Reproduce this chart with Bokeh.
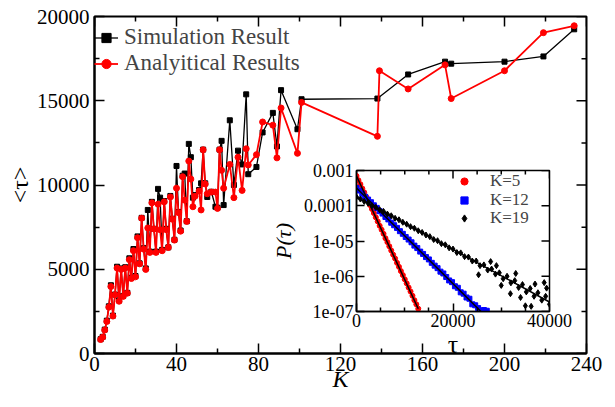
import numpy as np
from bokeh.plotting import figure
from bokeh.models import (Range1d, Legend, LegendItem, FixedTicker, GridBox)
from bokeh.embed import file_html
from bokeh.resources import INLINE

# ---------------- main data ----------------
K_sim = [3, 4, 5, 6, 7, 8, 9, 10, 11, 12, 13, 14, 15, 16, 17, 18, 19, 20, 21, 22, 23, 24, 25,
         26, 27, 28, 29, 30, 31, 32, 33, 34, 35, 36, 37, 38, 39, 40, 41, 42, 43, 44, 45, 46,
         47, 48, 49, 51, 52, 53, 54, 55, 57, 59, 60, 61, 62, 63, 66, 68, 70, 72, 74, 75, 79,
         82, 87, 89, 91, 99, 101, 138, 153, 171, 174, 200, 219, 234]
tau_sim = [850, 990, 1420, 1950, 2800, 4050, 2250, 3500, 5150, 3150, 5050, 3420, 5120, 3600,
           5650, 4500, 6200, 4600, 6950, 5350, 8050, 6250, 5050, 8520, 6050, 9000, 7400, 6050,
           9770, 9250, 6150, 9050, 7400, 6300, 9350, 8000, 6750, 11130, 8400, 7300, 10550,
           10680, 7850, 12440, 11650, 9250, 9400, 9700, 10100, 12100, 10100, 9290, 9600, 8710,
           8650, 12100, 12620, 8810, 13840, 10000, 12040, 11220, 15380, 10640, 11070, 13120,
           14280, 12290, 15630, 13310, 15090, 15130, 16560, 17320, 17200, 17320, 17630, 19240]

K_ana = [3, 4, 5, 6, 7, 8, 9, 10, 11, 12, 13, 14, 15, 16, 17, 18, 19, 20, 21, 22, 23, 24, 25,
         26, 27, 28, 29, 30, 31, 32, 33, 34, 35, 36, 37, 38, 39, 40, 41, 42, 43, 44, 45, 46,
         47, 48, 49, 51, 52, 53, 54, 55, 57, 59, 60, 61, 62, 63, 66, 68, 70, 72, 74, 75, 79,
         82, 87, 89, 91, 99, 101, 138, 139, 153, 171, 174, 200, 219, 234]
tau_ana = [830, 970, 1390, 1900, 2750, 3970, 2220, 3480, 5070, 3100, 4990, 3390, 5070, 3580,
           5570, 4450, 6100, 4550, 6870, 5320, 8030, 6190, 4990, 7450, 6000, 8940, 7390, 6000,
           8860, 7350, 6100, 9000, 7350, 6290, 9290, 7970, 6730, 9810, 8360, 7260, 10490, 9100,
           7840, 11420, 10350, 8710, 9330, 9640, 8520, 12090, 10060, 9480, 9580, 9580, 8610,
           12090, 10870, 9810, 11220, 9250, 11650, 9680, 12150, 11190, 11800, 13740, 13550,
           11610, 14570, 11880, 14900, 12890, 16780, 15700, 17130, 15130, 16780, 19040, 19450]

X_TICKS = [0, 40, 80, 120, 160, 200, 240]
X_MINOR = [20, 60, 100, 140, 180, 220]
Y_TICKS = [0, 5000, 10000, 15000, 20000]
Y_MINOR = [2500, 7500, 12500, 17500]
X_RANGE = (0, 240)
Y_RANGE = (0, 20000)

# ---------------- inset data ----------------
t5 = [0, 400, 800, 1200, 1600, 2000, 2400, 2800, 3200, 3600, 4000, 4400, 4800, 5200, 5600,
      6000, 6400, 6800, 7200, 7600, 8000, 8400, 8800, 9200, 9600, 10000, 10400, 10800, 11200,
      11600, 12000, 12400, 12800]
p5 = [7.0e-4, 5.3e-4, 4.1e-4, 3.1e-4, 2.4e-4, 1.8e-4, 1.4e-4, 1.05e-4, 8.1e-5, 6.2e-5, 4.7e-5,
      3.6e-5, 2.7e-5, 2.1e-5, 1.6e-5, 1.2e-5, 9.3e-6, 7.1e-6, 5.4e-6, 4.1e-6, 3.2e-6, 2.4e-6,
      1.85e-6, 1.4e-6, 1.08e-6, 8.2e-7, 6.3e-7, 4.8e-7, 3.7e-7, 2.8e-7, 2.1e-7, 1.6e-7, 1.2e-7]

t12 = [0, 600, 1200, 1800, 2400, 3000, 3600, 4200, 4800, 5400, 6000, 6600, 7200, 7800, 8400,
       9000, 9600, 10200, 10800, 11400, 12000, 12600, 13200, 13800, 14400, 15000, 15600, 16200,
       16800, 17400, 18000, 18600, 19200, 19800, 20400, 21000, 21600, 22200, 22800, 23400,
       24000, 24600, 25200, 25800, 26400, 27000]
p12 = [3.2e-4, 2.7e-4, 2.2e-4, 1.8e-4, 1.5e-4, 1.26e-4, 1.03e-4, 8.7e-5, 7.0e-5, 6.0e-5,
       4.8e-5, 4.1e-5, 3.3e-5, 2.8e-5, 2.35e-5, 1.9e-5, 1.6e-5, 1.3e-5, 1.1e-5, 9.2e-6, 7.4e-6,
       6.3e-6, 5.0e-6, 4.3e-6, 3.5e-6, 3.0e-6, 2.4e-6, 2.0e-6, 1.7e-6, 1.35e-6, 1.2e-6, 9.5e-7,
       7.6e-7, 6.8e-7, 5.2e-7, 4.7e-7, 3.5e-7, 3.2e-7, 2.5e-7, 2.3e-7, 1.6e-7, 1.5e-7, 1.25e-7,
       1.05e-7, 1.1e-7, 1.05e-7]

t19 = [0, 800, 1600, 2400, 3200, 4000, 4800, 5600, 6400, 7200, 8000, 8800, 9600, 10400, 11200,
       12000, 12800, 13600, 14400, 15200, 16000, 16800, 17600, 18400, 19200, 20000, 20800,
       21600, 22400, 23200, 24000, 24800, 25600, 26400, 27200, 28000, 28800, 29600, 30400,
       31200, 32000, 32800, 33600, 34400, 35200, 36000, 36800, 37600, 38400, 39200, 40000,
       25300, 27800, 29000, 30000, 31900, 33000, 34000, 35000, 36200, 37000, 38900, 39400]
p19 = [1.77e-4, 1.55e-4, 1.33e-4, 1.18e-4, 1.0e-4, 9.0e-5, 7.7e-5, 6.9e-5, 5.8e-5, 5.2e-5,
       4.4e-5, 4.0e-5, 3.4e-5, 3.0e-5, 2.55e-5, 2.3e-5, 1.95e-5, 1.75e-5, 1.48e-5, 1.33e-5,
       1.1e-5, 1.02e-5, 8.4e-6, 7.8e-6, 6.4e-6, 5.9e-6, 4.7e-6, 4.6e-6, 3.6e-6, 3.5e-6, 2.7e-6,
       2.7e-6, 2.0e-6, 2.1e-6, 1.5e-6, 1.6e-6, 1.15e-6, 1.25e-6, 8.5e-7, 1.0e-6, 6.5e-7, 7.5e-7,
       4.8e-7, 5.8e-7, 3.6e-7, 4.5e-7, 2.7e-7, 3.4e-7, 2.1e-7, 2.7e-7, 1.6e-7,
       1.1e-6, 2.6e-6, 2.0e-6, 5.5e-7, 3.2e-7, 1.2e-6, 2.5e-7, 1.45e-7, 1.4e-7, 6.0e-7, 6.6e-7,
       4.6e-7]

fit5_t, fit5_p = [0, 12800], [7.0e-4, 1.2e-7]
fit12_t, fit12_p = [0, 25800], [3.2e-4, 1.0e-7]
fit19_t, fit19_p = [0, 40000], [1.77e-4, 1.86e-7]

IN_X_TICKS = [0, 20000, 40000]
IN_X_MINOR = [5000, 10000, 15000, 25000, 30000, 35000]
IN_Y_TICKS = [1e-3, 1e-4, 1e-5, 1e-6, 1e-7]
IN_Y_LABELS = ["0.001", "0.0001", "1e-05", "1e-06", "1e-07"]
IN_X_RANGE = (0, 40000)
IN_Y_RANGE = (1e-7, 1e-3)

SERIF = "Liberation Serif"


def style_axis(ax, ticks, minor, size, standoff, tick_in, minor_in):
    ax.ticker = FixedTicker(ticks=ticks, minor_ticks=minor)
    ax.major_tick_in = tick_in
    ax.major_tick_out = 0
    ax.minor_tick_in = minor_in
    ax.minor_tick_out = 0
    ax.major_tick_line_width = 1.5
    ax.minor_tick_line_width = 1.5
    ax.major_tick_line_color = "black"
    ax.minor_tick_line_color = "black"
    ax.axis_line_width = 2
    ax.axis_line_color = "black"
    ax.major_label_text_font = SERIF
    ax.major_label_text_color = "black"
    ax.major_label_text_font_size = size
    ax.major_label_standoff = standoff


def axis_title(ax, text, size, style, standoff):
    ax.axis_label = text
    ax.axis_label_text_font = SERIF
    ax.axis_label_text_font_size = size
    ax.axis_label_text_font_style = style
    ax.axis_label_text_color = "black"
    ax.axis_label_standoff = standoff


def mirror_ticks(fig, xt, xm, yt, ym, xr, yr, major, minor):
    kw = dict(length_units="screen", line_color="black", line_width=1.5)
    fig.ray(x=xt, y=[yr[1]] * len(xt), length=major, angle=-np.pi / 2, **kw)
    if xm:
        fig.ray(x=xm, y=[yr[1]] * len(xm), length=minor, angle=-np.pi / 2, **kw)
    fig.ray(x=[xr[1]] * len(yt), y=yt, length=major, angle=np.pi, **kw)
    if ym:
        fig.ray(x=[xr[1]] * len(ym), y=ym, length=minor, angle=np.pi, **kw)


# ---------------- main figure ----------------
p = figure(width=615, height=407, output_backend="svg", toolbar_location=None,
           x_range=Range1d(*X_RANGE), y_range=Range1d(*Y_RANGE),
           min_border_left=94, min_border_right=29, min_border_top=16, min_border_bottom=47,
           sizing_mode="fixed")
p.grid.visible = False
p.outline_line_color = "black"
p.outline_line_width = 2
p.background_fill_color = "white"
p.border_fill_color = "white"

style_axis(p.xaxis[0], X_TICKS, X_MINOR, "21px", 3, 10, 5)
style_axis(p.yaxis[0], Y_TICKS, Y_MINOR, "21px", 5, 10, 5)
mirror_ticks(p, X_TICKS, X_MINOR, Y_TICKS, Y_MINOR, X_RANGE, Y_RANGE, 10, 5)
axis_title(p.yaxis[0], "<τ>", "24px", "normal", 1)
axis_title(p.xaxis[0], "K", "24px", "italic", -8)

l_sim = p.line(K_sim, tau_sim, line_color="black", line_width=1.3)
s_sim = p.scatter(K_sim, tau_sim, marker="square", size=5, fill_color="black", line_color="black")
l_ana = p.line(K_ana, tau_ana, line_color="#ff0000", line_width=1.8)
s_ana = p.scatter(K_ana, tau_ana, marker="circle", size=6, fill_color="#ff0000", line_color="#ff0000")

leg = Legend(items=[LegendItem(label="Simulation Result", renderers=[l_sim, s_sim]),
                    LegendItem(label="Analyitical Results", renderers=[l_ana, s_ana])],
             location=(0, 277), margin=0, padding=4, spacing=0,
             label_height=23, glyph_height=23, glyph_width=24, label_standoff=6,
             label_text_font=SERIF, label_text_font_size="23px",
             background_fill_alpha=0, border_line_color=None)
p.add_layout(leg)

# ---------------- inset figure ----------------
q = figure(width=316, height=211, output_backend="svg", toolbar_location=None,
           x_range=Range1d(*IN_X_RANGE), y_range=Range1d(*IN_Y_RANGE), y_axis_type="log",
           min_border_left=92, min_border_right=26, min_border_top=10, min_border_bottom=54,
           sizing_mode="fixed")
q.grid.visible = False
q.outline_line_color = "black"
q.outline_line_width = 1.5
q.background_fill_color = "white"
q.border_fill_color = None
q.margin = (154, 0, 0, 262)

style_axis(q.xaxis[0], IN_X_TICKS, IN_X_MINOR, "18px", 2, 8, 4)
style_axis(q.yaxis[0], IN_Y_TICKS, [], "18px", 3, 8, 4)
q.yaxis[0].major_label_overrides = {t: s for t, s in zip(IN_Y_TICKS, IN_Y_LABELS)}
for ax in (q.xaxis[0], q.yaxis[0]):
    ax.axis_line_width = 1.5
axis_title(q.xaxis[0], "τ", "26px", "normal", 0)
axis_title(q.yaxis[0], "P(τ)", "22px", "italic", 5)
mirror_ticks(q, IN_X_TICKS, IN_X_MINOR, IN_Y_TICKS, [], IN_X_RANGE, IN_Y_RANGE, 8, 4)

r5 = q.scatter(t5, p5, marker="circle", size=5, fill_color="#ff0000", line_color="#ff0000")
r12 = q.scatter(t12, p12, marker="square", size=5, fill_color="#0000ff", line_color="#0000ff")
r19 = q.scatter(t19, p19, marker="diamond", size=6, fill_color="black", line_color="black")
for ft, fp in [(fit5_t, fit5_p), (fit12_t, fit12_p), (fit19_t, fit19_p)]:
    q.line(ft, fp, line_color="black", line_width=1.5)

for lab, rend, ybot in [("K=5", r5, 120), ("K=12", r12, 101), ("K=19", r19, 83)]:
    q.add_layout(Legend(items=[LegendItem(label=lab, renderers=[rend])],
                        location=(98, ybot), margin=0, padding=0, spacing=0,
                        label_height=18, glyph_height=18, glyph_width=20, label_standoff=16,
                        label_text_font=SERIF, label_text_font_size="17px",
                        background_fill_alpha=0, border_line_color=None))

grid = GridBox(children=[(p, 0, 0), (q, 0, 0)], width=615, height=407, sizing_mode="fixed")
open("out.html", "w").write(file_html(grid, INLINE))
